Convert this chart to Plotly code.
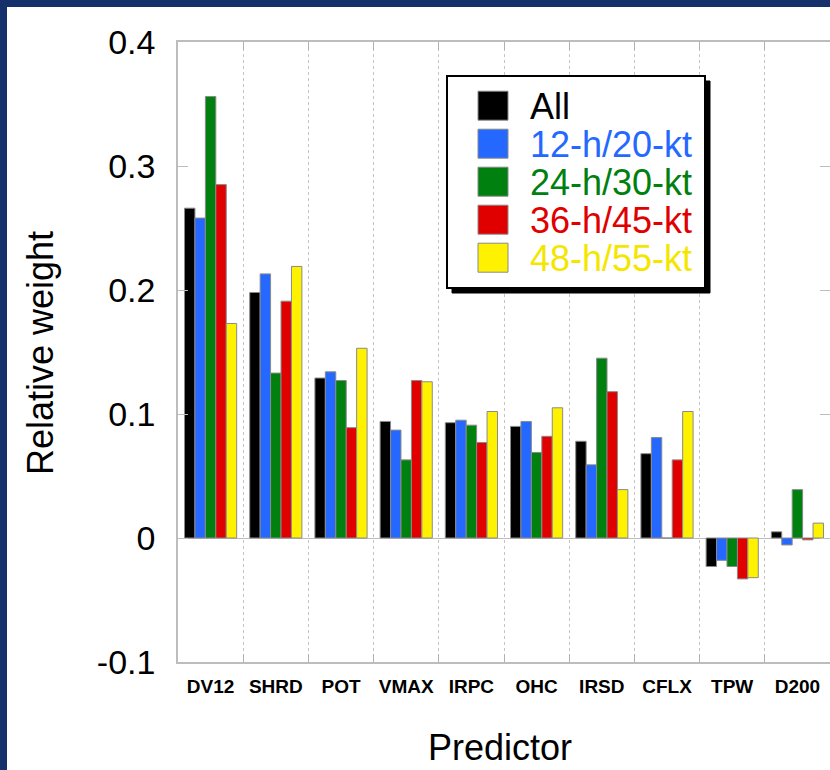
import plotly.graph_objects as go

categories = ["DV12", "SHRD", "POT", "VMAX", "IRPC", "OHC", "IRSD", "CFLX", "TPW", "D200"]
series_names = ["All", "12-h/20-kt", "24-h/30-kt", "36-h/45-kt", "48-h/55-kt"]
series_colors = ["#000000", "#2468ff", "#00800e", "#e00000", "#fff200"]
text_colors = ["#000000", "#2468ff", "#00800e", "#e00000", "#f5e600"]

w_all = [0.266, 0.198, 0.129, 0.094, 0.093, 0.090, 0.078, 0.068, -0.023, 0.005]
w_12h = [0.258, 0.213, 0.134, 0.087, 0.095, 0.094, 0.059, 0.081, -0.018, -0.0056]
w_24h = [0.356, 0.133, 0.127, 0.063, 0.091, 0.069, 0.145, 0.0, -0.023, 0.039]
w_36h = [0.285, 0.191, 0.089, 0.127, 0.077, 0.082, 0.118, 0.063, -0.033, -0.0015]
w_48h = [0.173, 0.219, 0.153, 0.126, 0.102, 0.105, 0.039, 0.102, -0.032, 0.012]
series_values = [w_all, w_12h, w_24h, w_36h, w_48h]

ytick_vals = [-0.1, 0, 0.1, 0.2, 0.3, 0.4]
ytick_text = ["-0.1", "0", "0.1", "0.2", "0.3", "0.4"]

W, H = 830, 770
ML, MR, MT, MB = 178, 0, 42, 108
PW, PH = W - ML - MR, H - MT - MB


def px_x(p):
    return (p - ML) / PW


def px_y(p):
    return (H - MB - p) / PH


fig = go.Figure()
for name, color, vals in zip(series_names, series_colors, series_values):
    fig.add_trace(go.Bar(
        x=categories, y=vals, name=name,
        marker=dict(color=color, line=dict(color="#8a8a8a", width=1)),
        showlegend=False,
    ))

shapes = []
annotations = []

# white slide panel over dark blue background
shapes.append(dict(type="rect", xref="paper", yref="paper", layer="below",
                   x0=px_x(7), x1=px_x(W + 5), y0=px_y(H + 5), y1=px_y(7),
                   fillcolor="white", line=dict(width=0)))

# legend box with shadow
shapes.append(dict(type="rect", xref="paper", yref="paper",
                   x0=px_x(452), x1=px_x(710), y0=px_y(293), y1=px_y(81),
                   fillcolor="black", line=dict(color="black", width=1)))
shapes.append(dict(type="rect", xref="paper", yref="paper",
                   x0=px_x(447), x1=px_x(705), y0=px_y(288), y1=px_y(76),
                   fillcolor="white", line=dict(color="black", width=2)))
for i, (name, color, tcol) in enumerate(zip(series_names, series_colors, text_colors)):
    cy = 105.7 + 38 * i
    shapes.append(dict(type="rect", xref="paper", yref="paper",
                       x0=px_x(478), x1=px_x(508), y0=px_y(cy + 14.5), y1=px_y(cy - 14.5),
                       fillcolor=color, line=dict(color="#8a8a8a", width=1)))
    annotations.append(dict(text=name, xref="paper", yref="paper",
                            x=px_x(528), y=px_y(cy + 1), xanchor="left", yanchor="middle",
                            showarrow=False,
                            font=dict(family="Liberation Sans, Arial", size=36, color=tcol)))

# axis titles
annotations.append(dict(text="Relative weight", xref="paper", yref="paper",
                        x=px_x(40), y=px_y(353), textangle=-90,
                        xanchor="center", yanchor="middle", showarrow=False,
                        font=dict(family="Liberation Sans, Arial", size=36, color="black")))
annotations.append(dict(text="Predictor", xref="paper", yref="paper",
                        x=px_x(500), y=px_y(747),
                        xanchor="center", yanchor="middle", showarrow=False,
                        font=dict(family="Liberation Sans, Arial", size=36, color="black")))

fig.update_layout(
    width=W, height=H,
    margin=dict(l=ML, r=MR, t=MT, b=MB, pad=0),
    paper_bgcolor="#15306a",
    plot_bgcolor="white",
    barmode="group", bargap=0.2, bargroupgap=0,
    shapes=shapes, annotations=annotations,
    showlegend=False,
    font=dict(family="Liberation Sans, Arial", color="black"),
)
fig.update_xaxes(
    type="category", tickson="boundaries",
    showgrid=True, gridcolor="#c4c4c4", griddash="dot", gridwidth=1,
    showline=True, linecolor="#bdbdbd", linewidth=1.5, mirror="ticks",
    ticks="inside", ticklen=8, tickcolor="#b0b0b0",
    tickangle=0,
    tickfont=dict(family="Liberation Sans, Arial", size=19, color="black", weight="bold"),
    ticklabelstandoff=6,
    automargin=False,
)
fig.update_yaxes(
    range=[-0.1, 0.4], tickvals=ytick_vals, ticktext=ytick_text,
    showgrid=False,
    zeroline=True, zerolinecolor="#bdbdbd", zerolinewidth=1,
    showline=True, linecolor="#bdbdbd", linewidth=1.5, mirror="ticks",
    ticks="inside", ticklen=10, tickcolor="#bdbdbd",
    tickfont=dict(family="Liberation Sans, Arial", size=34, color="black"),
    ticklabelstandoff=14,
    automargin=False,
)

fig.write_html(
    "out.html",
    config={"displayModeBar": False},
    post_script="document.body.style.margin='0';document.body.style.overflow='hidden';",
)
